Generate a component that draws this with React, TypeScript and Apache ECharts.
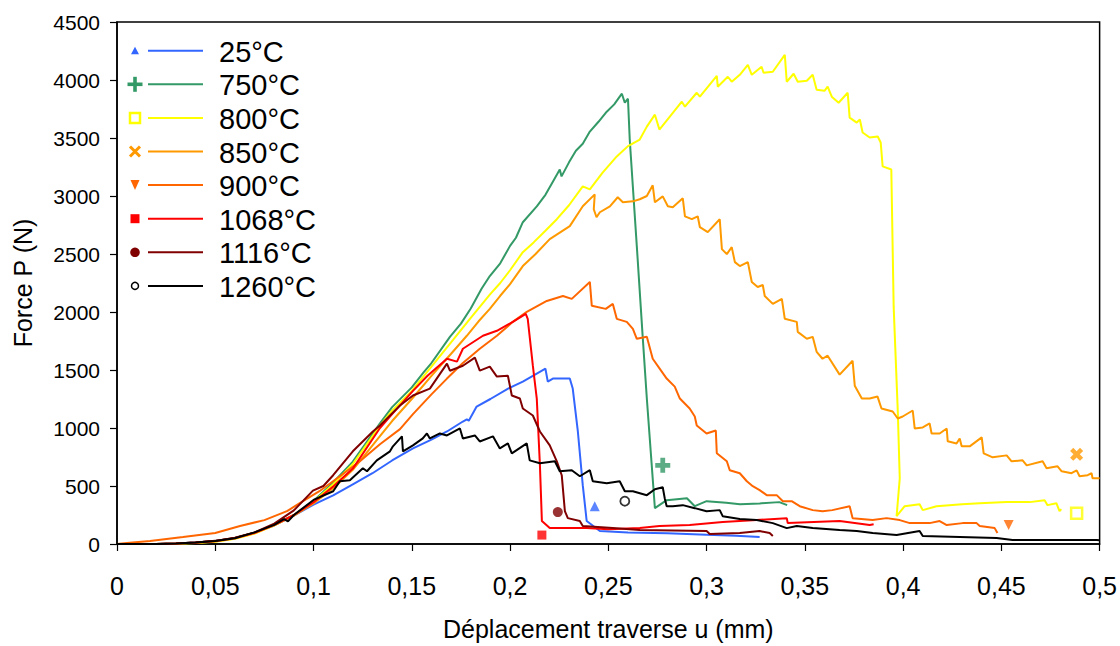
import React, { useEffect, useRef } from "react";
import * as echarts from "echarts";

const seriesNames = ["25°C", "750°C", "800°C", "850°C", "900°C", "1068°C", "1116°C", "1260°C"];
const seriesColors = ["#3366FF", "#339966", "#FFFF00", "#FF9900", "#FF6600", "#FF0000", "#800000", "#000000"];

const xTickLabels = ["0", "0,05", "0,1", "0,15", "0,2", "0,25", "0,3", "0,35", "0,4", "0,45", "0,5"];
const yTickLabels = ["0", "500", "1000", "1500", "2000", "2500", "3000", "3500", "4000", "4500"];

const curve25 = [[0,0],[0.02,1],[0.03,5],[0.04,12],[0.05,26],[0.06,50],[0.07,98],[0.08,160],[0.09,245],[0.1,340],[0.11,420],[0.12,515],[0.13,610],[0.14,720],[0.1506,824],[0.16,900],[0.1679,970],[0.176,1056],[0.178,1075],[0.179,1062],[0.183,1185],[0.19,1250],[0.199,1340],[0.2065,1400],[0.2136,1469],[0.218,1511],[0.2192,1400],[0.2218,1426],[0.2304,1426],[0.2319,1340],[0.2345,970],[0.237,507],[0.239,198],[0.2457,112],[0.26,100],[0.28,92],[0.30,80],[0.315,72],[0.327,60]];

const curve750 = [[0,0],[0.02,1],[0.03,5],[0.04,12],[0.05,25],[0.06,52],[0.07,98],[0.08,165],[0.09,250],[0.1,370],[0.11,530],[0.12,710],[0.1338,1040],[0.14,1180],[0.15,1350],[0.156,1480],[0.16,1560],[0.1694,1786],[0.175,1900],[0.18,2030],[0.1855,2200],[0.1897,2310],[0.195,2420],[0.2,2570],[0.203,2640],[0.2065,2774],[0.2136,2911],[0.218,3010],[0.222,3130],[0.2253,3229],[0.2262,3169],[0.23,3290],[0.2335,3390],[0.237,3450],[0.2406,3555],[0.245,3640],[0.2492,3727],[0.253,3790],[0.2569,3882],[0.2584,3804],[0.26,3839],[0.2609,3487],[0.2645,2568],[0.2675,1786],[0.2696,1254],[0.2737,309],[0.2797,378],[0.29,395],[0.294,326],[0.30,369],[0.31,355],[0.317,343],[0.327,350],[0.337,361],[0.341,335]];

const curve800 = [[0,0],[0.02,0],[0.03,3],[0.04,8],[0.05,20],[0.06,45],[0.07,90],[0.08,160],[0.09,250],[0.1,365],[0.11,515],[0.12,690],[0.1338,1020],[0.14,1150],[0.15,1320],[0.16,1530],[0.171,1760],[0.18,1950],[0.1897,2150],[0.195,2250],[0.2,2360],[0.2065,2516],[0.212,2600],[0.218,2700],[0.2238,2800],[0.23,2920],[0.237,3083],[0.2406,3057],[0.247,3200],[0.2543,3341],[0.26,3430],[0.266,3487],[0.2696,3598],[0.2737,3701],[0.276,3573],[0.2813,3684],[0.2874,3813],[0.289,3770],[0.295,3890],[0.2966,3856],[0.3052,4036],[0.3057,3942],[0.3108,4028],[0.3128,3985],[0.3169,4045],[0.321,4131],[0.323,4045],[0.328,4114],[0.329,4062],[0.3337,4071],[0.3398,4217],[0.3408,3985],[0.3443,4054],[0.3464,3985],[0.351,3993],[0.354,4045],[0.356,3916],[0.36,3907],[0.3616,3942],[0.3637,3856],[0.3672,3804],[0.3718,3890],[0.3728,3676],[0.3764,3633],[0.378,3659],[0.3794,3547],[0.383,3504],[0.3871,3513],[0.3886,3461],[0.3896,3255],[0.394,3229],[0.3952,2044],[0.3973,1142],[0.3983,567],[0.3967,240],[0.4008,326],[0.4084,343],[0.41,292],[0.417,326],[0.43,343],[0.439,352],[0.4527,361],[0.4644,361],[0.472,378],[0.4735,335],[0.478,352],[0.4796,283],[0.4805,300]];

const curve850 = [[0,0],[0.02,1],[0.03,4],[0.04,10],[0.05,22],[0.06,48],[0.07,92],[0.08,160],[0.09,245],[0.1,350],[0.11,480],[0.12,640],[0.1338,930],[0.14,1060],[0.15,1250],[0.16,1450],[0.17,1640],[0.178,1795],[0.184,1920],[0.1897,2027],[0.195,2140],[0.2,2240],[0.2065,2396],[0.213,2500],[0.2202,2628],[0.2304,2740],[0.237,2911],[0.2431,3014],[0.2426,2886],[0.244,2817],[0.2457,2860],[0.2508,2911],[0.2548,2989],[0.2574,2946],[0.2625,2954],[0.266,2972],[0.2696,3000],[0.2726,3092],[0.2737,2946],[0.2777,2997],[0.2803,2911],[0.2828,2903],[0.2879,2980],[0.289,2825],[0.2925,2800],[0.2955,2825],[0.2966,2731],[0.3006,2688],[0.3067,2800],[0.3078,2542],[0.3103,2499],[0.3128,2559],[0.3144,2430],[0.3169,2396],[0.321,2430],[0.323,2259],[0.326,2216],[0.3286,2233],[0.3296,2138],[0.3337,2070],[0.3383,2113],[0.3398,1941],[0.3459,1915],[0.3464,1829],[0.351,1769],[0.354,1786],[0.356,1657],[0.359,1597],[0.3616,1623],[0.3677,1460],[0.3743,1580],[0.3754,1365],[0.379,1254],[0.383,1254],[0.387,1271],[0.389,1168],[0.3947,1142],[0.3973,1082],[0.3998,1099],[0.4049,1151],[0.4059,996],[0.41,1005],[0.4135,1039],[0.4145,953],[0.4186,953],[0.4222,996],[0.4227,885],[0.4272,867],[0.4288,910],[0.4298,842],[0.4339,842],[0.44,919],[0.441,782],[0.4456,747],[0.4527,764],[0.4552,713],[0.4608,721],[0.4629,678],[0.471,713],[0.473,653],[0.4786,670],[0.4807,627],[0.4857,610],[0.4883,635],[0.4898,584],[0.4939,593],[0.4959,610],[0.4964,567],[0.5,567]];

const curve900 = [[0,0],[0.005,8],[0.0168,26],[0.0336,60],[0.05,95],[0.0626,155],[0.075,206],[0.0865,283],[0.093,352],[0.103,455],[0.1134,584],[0.1236,713],[0.1338,860],[0.144,990],[0.1506,1120],[0.16,1290],[0.1679,1426],[0.176,1560],[0.1846,1683],[0.1933,1795],[0.2014,1915],[0.2085,2001],[0.2187,2095],[0.2269,2138],[0.2314,2113],[0.2406,2259],[0.2416,2053],[0.2487,2027],[0.2523,2070],[0.2543,1941],[0.2594,1915],[0.2625,1855],[0.2645,1769],[0.2696,1786],[0.2726,1597],[0.2772,1486],[0.2797,1426],[0.2838,1357],[0.2864,1254],[0.2914,1168],[0.294,1099],[0.295,1022],[0.3,953],[0.3047,979],[0.3052,782],[0.3103,713],[0.3118,636],[0.3169,610],[0.3205,541],[0.3235,498],[0.327,464],[0.3306,421],[0.3357,421],[0.3388,369],[0.3433,369],[0.3474,326],[0.354,292],[0.359,283],[0.364,292],[0.3728,326],[0.3743,223],[0.3845,206],[0.3916,223],[0.3983,206],[0.4034,180],[0.4135,180],[0.4186,198],[0.4222,163],[0.4303,180],[0.4374,180],[0.439,155],[0.4466,137],[0.448,94]];

const curve1068 = [[0,0],[0.02,1],[0.03,5],[0.04,12],[0.05,26],[0.06,52],[0.07,96],[0.08,165],[0.09,250],[0.1,360],[0.11,495],[0.12,650],[0.1338,1000],[0.14,1120],[0.1506,1320],[0.158,1450],[0.1679,1597],[0.173,1572],[0.176,1683],[0.1862,1795],[0.1933,1838],[0.2014,1915],[0.208,1984],[0.209,1941],[0.2116,1537],[0.2136,1254],[0.2152,678],[0.2162,198],[0.2202,137],[0.2289,137],[0.239,137],[0.25,128],[0.266,137],[0.276,155],[0.2914,163],[0.3082,189],[0.3255,206],[0.3408,223],[0.3413,180],[0.3677,198],[0.383,163],[0.385,170]];

const curve1116 = [[0,0],[0.02,1],[0.03,5],[0.04,12],[0.05,27],[0.06,55],[0.07,100],[0.08,175],[0.09,290],[0.0997,460],[0.105,500],[0.11,593],[0.12,799],[0.1302,970],[0.1338,1022],[0.144,1194],[0.1506,1280],[0.1592,1340],[0.1679,1555],[0.1694,1494],[0.176,1537],[0.1821,1606],[0.1846,1494],[0.1897,1529],[0.1933,1443],[0.1989,1451],[0.2009,1280],[0.205,1254],[0.2065,1168],[0.2116,1108],[0.2152,970],[0.2202,850],[0.2238,713],[0.2263,593],[0.2279,283],[0.2294,223],[0.2355,198],[0.237,155],[0.2523,137],[0.266,120],[0.3,112],[0.3016,86],[0.3169,94],[0.327,112],[0.3321,94],[0.3337,69]];

const curve1260 = [[0,0],[0.02,1],[0.03,5],[0.04,12],[0.05,26],[0.06,50],[0.07,100],[0.08,165],[0.085,215],[0.087,195],[0.09,250],[0.1,380],[0.11,455],[0.1134,541],[0.1185,550],[0.1251,653],[0.1272,627],[0.1322,721],[0.1389,799],[0.1404,842],[0.145,928],[0.1455,799],[0.1506,850],[0.1556,910],[0.1577,953],[0.1592,910],[0.1643,953],[0.1679,936],[0.1745,996],[0.176,910],[0.1821,936],[0.1846,884],[0.1913,928],[0.1948,824],[0.1989,867],[0.2009,781],[0.2085,867],[0.21,721],[0.2152,696],[0.2228,713],[0.2253,627],[0.2314,636],[0.2355,584],[0.2406,636],[0.2421,541],[0.2492,524],[0.2558,541],[0.2584,455],[0.2625,455],[0.2696,421],[0.2737,472],[0.2777,489],[0.2787,395],[0.2797,326],[0.2828,326],[0.2879,335],[0.294,309],[0.3,283],[0.3067,292],[0.3082,240],[0.3169,215],[0.3255,206],[0.3337,180],[0.3408,137],[0.3459,155],[0.354,137],[0.3677,120],[0.3764,112],[0.3845,94],[0.3967,77],[0.4084,112],[0.41,69],[0.4476,52],[0.4557,34],[0.4985,34],[0.5,32]];

const curves = [curve25, curve750, curve800, curve850, curve900, curve1068, curve1116, curve1260];

// single marker point shown for each test
const markerPoints = [[0.2431, 326], [0.2777, 678], [0.4883, 266], [0.4883, 773], [0.4537, 163], [0.2162, 77], [0.2243, 275], [0.2584, 369]];

const PLUS = "path://M3.4,0H6.6V3.4H10V6.6H6.6V10H3.4V6.6H0V3.4H3.4Z";
const markerStyles = [
  { symbol: "triangle", size: 10, fill: true },
  { symbol: PLUS, size: 15, fill: true },
  { symbol: "rect", size: 11, fill: false },
  { symbol: PLUS, size: 14, fill: true, rotate: 45 },
  { symbol: "triangle", size: 10, fill: true, rotate: 180 },
  { symbol: "rect", size: 9, fill: true },
  { symbol: "circle", size: 10, fill: true },
  { symbol: "circle", size: 9, fill: false },
];

const FONT = "'Liberation Sans', Arial, sans-serif";

function legendGraphics() {
  const els: any[] = [];
  seriesNames.forEach((name, i) => {
    const y = 50.7 + i * 33.6;
    const c = seriesColors[i];
    const mx = 135;
    els.push({ type: "line", shape: { x1: 148, y1: y, x2: 203, y2: y }, style: { stroke: c, lineWidth: 2 } });
    els.push({ type: "text", x: 219, y: y + 1, style: { text: name, fontSize: 29, fontFamily: FONT, fill: "#000", verticalAlign: "middle", align: "left" } });
    let m: any;
    switch (i) {
      case 0:
        m = { type: "polygon", shape: { points: [[mx - 4, y + 3.5], [mx + 4, y + 3.5], [mx, y - 4]] }, style: { fill: c } };
        els.push(m);
        break;
      case 1:
        els.push({ type: "rect", shape: { x: mx - 7.5, y: y - 1.8, width: 15, height: 3.6 }, style: { fill: c } });
        els.push({ type: "rect", shape: { x: mx - 1.8, y: y - 7.5, width: 3.6, height: 15 }, style: { fill: c } });
        break;
      case 2:
        els.push({ type: "rect", shape: { x: mx - 5, y: y - 5, width: 10, height: 10 }, style: { fill: "none", stroke: c, lineWidth: 2.5 } });
        break;
      case 3:
        els.push({ type: "line", shape: { x1: mx - 5, y1: y - 5, x2: mx + 5, y2: y + 5 }, style: { stroke: c, lineWidth: 3 } });
        els.push({ type: "line", shape: { x1: mx + 5, y1: y - 5, x2: mx - 5, y2: y + 5 }, style: { stroke: c, lineWidth: 3 } });
        break;
      case 4:
        els.push({ type: "polygon", shape: { points: [[mx - 4.5, y - 5], [mx + 4.5, y - 5], [mx, y + 5]] }, style: { fill: c } });
        break;
      case 5:
        els.push({ type: "rect", shape: { x: mx - 4.5, y: y - 4.5, width: 9, height: 9 }, style: { fill: c } });
        break;
      case 6:
        els.push({ type: "circle", shape: { cx: mx, cy: y, r: 4.8 }, style: { fill: c } });
        break;
      case 7:
        els.push({ type: "circle", shape: { cx: mx, cy: y, r: 3.5 }, style: { fill: "none", stroke: c, lineWidth: 1.5 } });
        break;
    }
  });
  return els;
}

export default function App() {
  const ref = useRef<HTMLDivElement>(null);
  useEffect(() => {
    document.body.style.margin = "0";
    const chart = echarts.init(ref.current!, null, { renderer: "svg" });
    const lineSeries = curves.map((data, i) => ({
      type: "line",
      name: seriesNames[i],
      data,
      showSymbol: false,
      symbol: "none",
      lineStyle: { color: seriesColors[i], width: 2 },
      itemStyle: { color: seriesColors[i] },
      z: 2 + i,
    }));
    const scatter = {
      type: "scatter",
      z: 20,
      data: markerPoints.map((p, i) => {
        const s = markerStyles[i];
        return {
          value: p,
          symbol: s.symbol,
          symbolSize: s.size,
          symbolRotate: s.rotate || 0,
          symbolKeepAspect: true,
          itemStyle: s.fill
            ? { color: seriesColors[i] }
            : { color: "rgba(255,255,255,0)", borderColor: seriesColors[i], borderWidth: s.symbol === "rect" ? 2.5 : 1.8 },
        };
      }),
    };
    chart.setOption({
      animation: false,
      textStyle: { fontFamily: FONT },
      grid: { left: 117, right: 20, top: 22, bottom: 100, show: true, borderColor: "#000", borderWidth: 1.5, backgroundColor: "transparent" },
      xAxis: {
        type: "value",
        min: 0,
        max: 0.5,
        interval: 0.05,
        name: "Déplacement traverse u (mm)",
        nameLocation: "middle",
        nameGap: 72,
        nameTextStyle: { fontSize: 25, color: "#000", fontFamily: FONT },
        axisLine: { show: true, lineStyle: { color: "#000", width: 1.5 } },
        axisTick: { show: true, length: 7, lineStyle: { color: "#000", width: 1.2 } },
        axisLabel: {
          fontSize: 25,
          color: "#000",
          margin: 29,
          fontFamily: FONT,
          formatter: (v: number) => xTickLabels[Math.round(v / 0.05)] ?? "",
        },
        splitLine: { show: false },
      },
      yAxis: {
        type: "value",
        min: 0,
        max: 4500,
        interval: 500,
        name: "Force P (N)",
        nameLocation: "middle",
        nameGap: 82,
        nameTextStyle: { fontSize: 25, color: "#000", fontFamily: FONT },
        axisLine: { show: true, lineStyle: { color: "#000", width: 1.5 } },
        axisTick: { show: true, length: 7, lineStyle: { color: "#000", width: 1.2 } },
        axisLabel: {
          fontSize: 21,
          color: "#000",
          margin: 17,
          fontFamily: FONT,
          formatter: (v: number) => yTickLabels[Math.round(v / 500)] ?? "",
        },
        splitLine: { show: false },
      },
      graphic: legendGraphics(),
      series: [...lineSeries, scatter],
    });
    return () => chart.dispose();
  }, []);
  return <div ref={ref} style={{ width: 1120, height: 646 }} />;
}
